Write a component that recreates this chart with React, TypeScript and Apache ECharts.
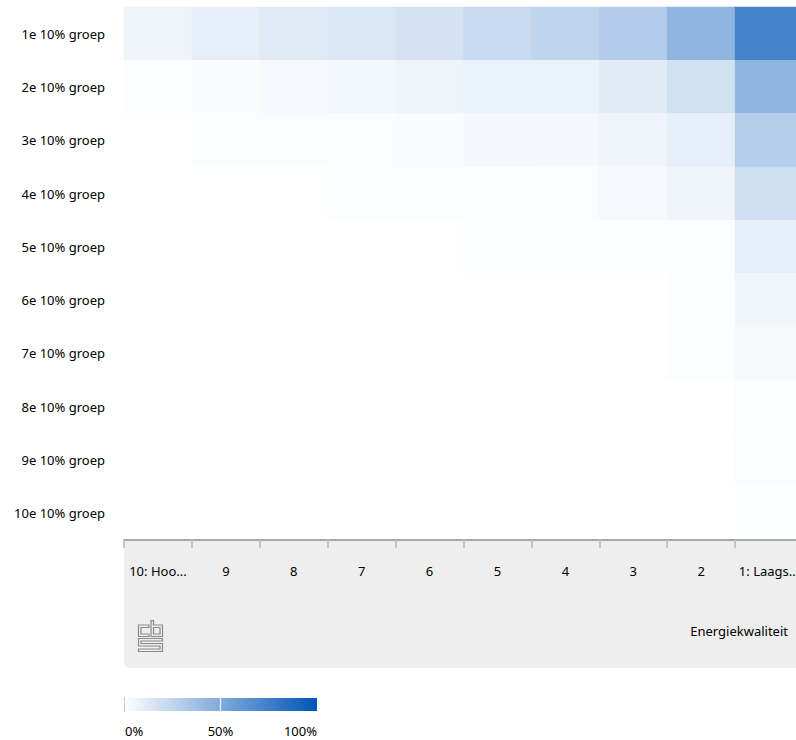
import React, { useEffect, useRef } from "react";
import * as echarts from "echarts";

const rowLabels = [
  "1e 10% groep",
  "2e 10% groep",
  "3e 10% groep",
  "4e 10% groep",
  "5e 10% groep",
  "6e 10% groep",
  "7e 10% groep",
  "8e 10% groep",
  "9e 10% groep",
  "10e 10% groep",
];

const colLabels = ["10: Hoogste", "9", "8", "7", "6", "5", "4", "3", "2", "1: Laagste"];

// percentages per row, in column order (10: Hoogste ... 1: Laagste)
const row1 = [6.5, 10, 12.5, 15, 17, 22, 25, 30, 43.5, 73];
const row2 = [2, 2.5, 4, 5, 6.5, 8.5, 8.5, 12, 17.5, 43.5];
const row3 = [0, 1.5, 1.5, 2, 2.4, 4.3, 4.3, 6, 10, 29];
const row4 = [0, 0, 0, 1.5, 1.5, 1.3, 2, 4, 6.5, 19];
const row5 = [0, 0, 0, 0, 0, 1.2, 1.2, 1.2, 1.2, 10];
const row6 = [0, 0, 0, 0, 0, 0, 0, 0, 1.2, 5.5];
const row7 = [0, 0, 0, 0, 0, 0, 0, 0, 1.2, 3.5];
const row8 = [0, 0, 0, 0, 0, 0, 0, 0, 0, 2];
const row9 = [0, 0, 0, 0, 0, 0, 0, 0, 0, 1.5];
const row10 = [0, 0, 0, 0, 0, 0, 0, 0, 0, 0.2];

const rows = [row1, row2, row3, row4, row5, row6, row7, row8, row9, row10];

const legendTicks = ["0%", "50%", "100%"];
const axisTitle = "Energiekwaliteit";

const FONT = "'Noto Sans', sans-serif";
const BLUE = "#0055b7";

const logoPath =
  "M11 5 L0.5 5 L0.5 16.5 L11 16.5 L11 14 L3 14 L3 7.5 L11 7.5 Z " +
  "M13 0.5 L15.5 0.5 L15.5 5 L24.5 5 L24.5 16.5 L13 16.5 Z " +
  "M15.5 7.5 L22 7.5 L22 14 L15.5 14 Z " +
  "M0.5 18.5 L24.5 18.5 L24.5 21 L3 21 L3 23.5 L24.5 23.5 L24.5 31.5 L0.5 31.5 L0.5 29 L22 29 L22 26 L0.5 26 Z";

let registered = false;

export default function App() {
  const ref = useRef<HTMLDivElement>(null);

  useEffect(() => {
    document.body.style.margin = "0";
    if (!registered) {
      echarts.graphic.registerShape("cbslogo", echarts.graphic.extendPath(logoPath, {}) as any);
      registered = true;
    }
    const chart = echarts.init(ref.current!, null, { renderer: "svg" });

    const data: number[][] = [];
    rows.forEach((r, yi) => r.forEach((v, xi) => data.push([xi, yi, v])));

    const option: any = {
      animation: false,
      textStyle: { fontFamily: FONT },
      grid: {
        left: 124,
        top: 7,
        width: 679,
        height: 533,
        containLabel: false,
        outerBoundsMode: "none",
      },
      xAxis: {
        type: "category",
        data: colLabels,
        z: 5,
        axisLine: { show: true, lineStyle: { color: "#a8a8a8", width: 2 } },
        axisTick: { show: true, length: 8, lineStyle: { color: "#c4c4c4", width: 2 } },
        axisLabel: {
          color: "#000",
          fontSize: 13,
          fontFamily: FONT,
          margin: 24,
          width: 62,
          overflow: "truncate",
          ellipsis: "...",
          interval: 0,
        },
        splitLine: { show: false },
      },
      yAxis: {
        type: "category",
        data: rowLabels,
        inverse: true,
        axisLine: { show: false },
        axisTick: { show: false },
        axisLabel: { color: "#000", fontSize: 13, fontFamily: FONT, margin: 19 },
        splitLine: { show: false },
      },
      visualMap: {
        type: "continuous",
        show: false,
        min: 0,
        max: 100,
        dimension: 2,
        seriesIndex: 0,
        inRange: { color: ["#ffffff", BLUE] },
      },
      series: [
        {
          type: "heatmap",
          data,
          itemStyle: { borderWidth: 0 },
          emphasis: { disabled: true },
        },
      ],
      graphic: [
        {
          type: "rect",
          z: -100,
          shape: { x: 124, y: 540, width: 720, height: 128, r: [0, 0, 0, 6] },
          style: { fill: "#eeeeee" },
        },
        {
          type: "text",
          z: 10,
          style: {
            x: 788,
            y: 631,
            text: axisTitle,
            fill: "#000",
            font: `13px ${FONT}`,
            textAlign: "right",
            textVerticalAlign: "middle",
          },
        },
        {
          type: "cbslogo",
          x: 138,
          y: 620,
          z: 10,
          style: { fill: "none", stroke: "#8a8a8a", lineWidth: 1.2 },
        },
        {
          type: "rect",
          shape: { x: 124, y: 698, width: 193, height: 13 },
          style: {
            fill: new echarts.graphic.LinearGradient(0, 0, 1, 0, [
              { offset: 0, color: "#ffffff" },
              { offset: 1, color: BLUE },
            ]),
          },
        },
        {
          type: "line",
          shape: { x1: 124.5, y1: 697, x2: 124.5, y2: 712 },
          style: { stroke: "#cccccc", lineWidth: 1 },
        },
        {
          type: "line",
          shape: { x1: 220.5, y1: 697, x2: 220.5, y2: 712 },
          style: { stroke: "#e6e6e6", lineWidth: 1.5 },
        },
        {
          type: "text",
          style: { x: 125, y: 731, text: legendTicks[0], fill: "#000", font: `13px ${FONT}`, textAlign: "left", textVerticalAlign: "middle" },
        },
        {
          type: "text",
          style: { x: 220.5, y: 731, text: legendTicks[1], fill: "#000", font: `13px ${FONT}`, textAlign: "center", textVerticalAlign: "middle" },
        },
        {
          type: "text",
          style: { x: 317, y: 731, text: legendTicks[2], fill: "#000", font: `13px ${FONT}`, textAlign: "right", textVerticalAlign: "middle" },
        },
      ],
    };

    chart.setOption(option);
    return () => chart.dispose();
  }, []);

  return (
    <div
      ref={ref}
      style={{ position: "absolute", left: 0, top: 0, width: 796, height: 740 }}
    />
  );
}
